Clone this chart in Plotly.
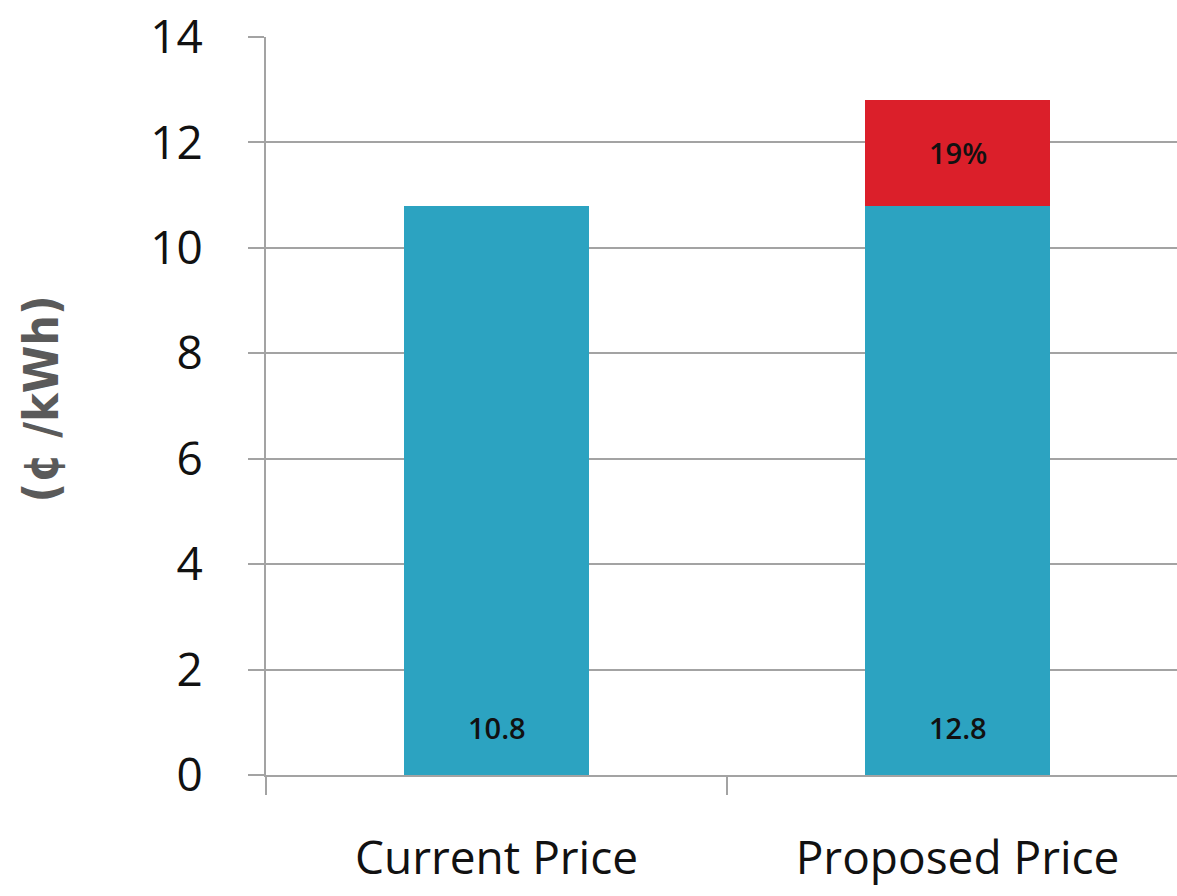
import plotly.graph_objects as go

# Electricity price comparison (cents per kWh)
categories = ["Current Price", "Proposed Price"]
base_price = [10.8, 10.8]
increase = [0.0, 2.0]
y_ticks = [0, 2, 4, 6, 8, 10, 12, 14]

BLUE = "#2CA3C1"
RED = "#DB1F2A"
GRID = "#A3A3A3"

totals = [b + i for b, i in zip(base_price, increase)]
pct_increase = (totals[1] - totals[0]) / totals[0] * 100

fig = go.Figure()
fig.add_trace(go.Bar(x=categories, y=base_price, marker=dict(color=BLUE, line=dict(width=0)),
                     hoverinfo="skip"))
fig.add_trace(go.Bar(x=categories[1:], y=increase[1:], marker=dict(color=RED, line=dict(width=0)),
                     hoverinfo="skip"))

# Total price labels near the bar bases
for cat, tot in zip(categories, totals):
    fig.add_annotation(x=cat, y=0.9, text=f"{tot:.1f}", showarrow=False,
                       font=dict(family="Open Sans", size=29, weight=600, color="#111111"))

# Percentage increase label inside the red segment
fig.add_annotation(x=categories[1], y=base_price[1] + increase[1] / 2,
                   text=f"{pct_increase:.0f}%", showarrow=False,
                   font=dict(family="Open Sans", size=29, weight=600, color="#111111"))

# Rotated unit title
fig.add_annotation(xref="paper", yref="paper", x=-0.247, y=0.51, text="<b>(¢ /kWh)</b>",
                   textangle=-90, showarrow=False, xanchor="center", yanchor="middle",
                   font=dict(family="Liberation Sans Narrow, DejaVu Sans Condensed, sans-serif",
                             size=48, color="#5A5A5A"))

fig.update_layout(
    barmode="stack",
    bargap=0.6,
    width=1177, height=896,
    margin=dict(l=266, r=0, t=37, b=121),
    plot_bgcolor="white", paper_bgcolor="white",
    showlegend=False,
    xaxis=dict(range=[-0.5, 1.476], showline=True, linecolor=GRID, linewidth=2,
               ticks="outside", tickson="boundaries", ticklen=18, tickcolor=GRID, tickwidth=2,
               tickfont=dict(family="Open Sans", size=46, color="#111111"),
               ticklabelstandoff=42, showgrid=False, fixedrange=True, automargin=False),
    yaxis=dict(range=[0, 14], tickvals=y_ticks, showline=True, linecolor=GRID, linewidth=2,
               ticks="outside", ticklen=16, tickcolor=GRID, tickwidth=2,
               showgrid=True, gridcolor=GRID, gridwidth=2, zeroline=False,
               tickfont=dict(family="Open Sans", size=46, color="#111111"),
               ticklabelstandoff=36, fixedrange=True, automargin=False),
)

fig.write_html("out.html")
